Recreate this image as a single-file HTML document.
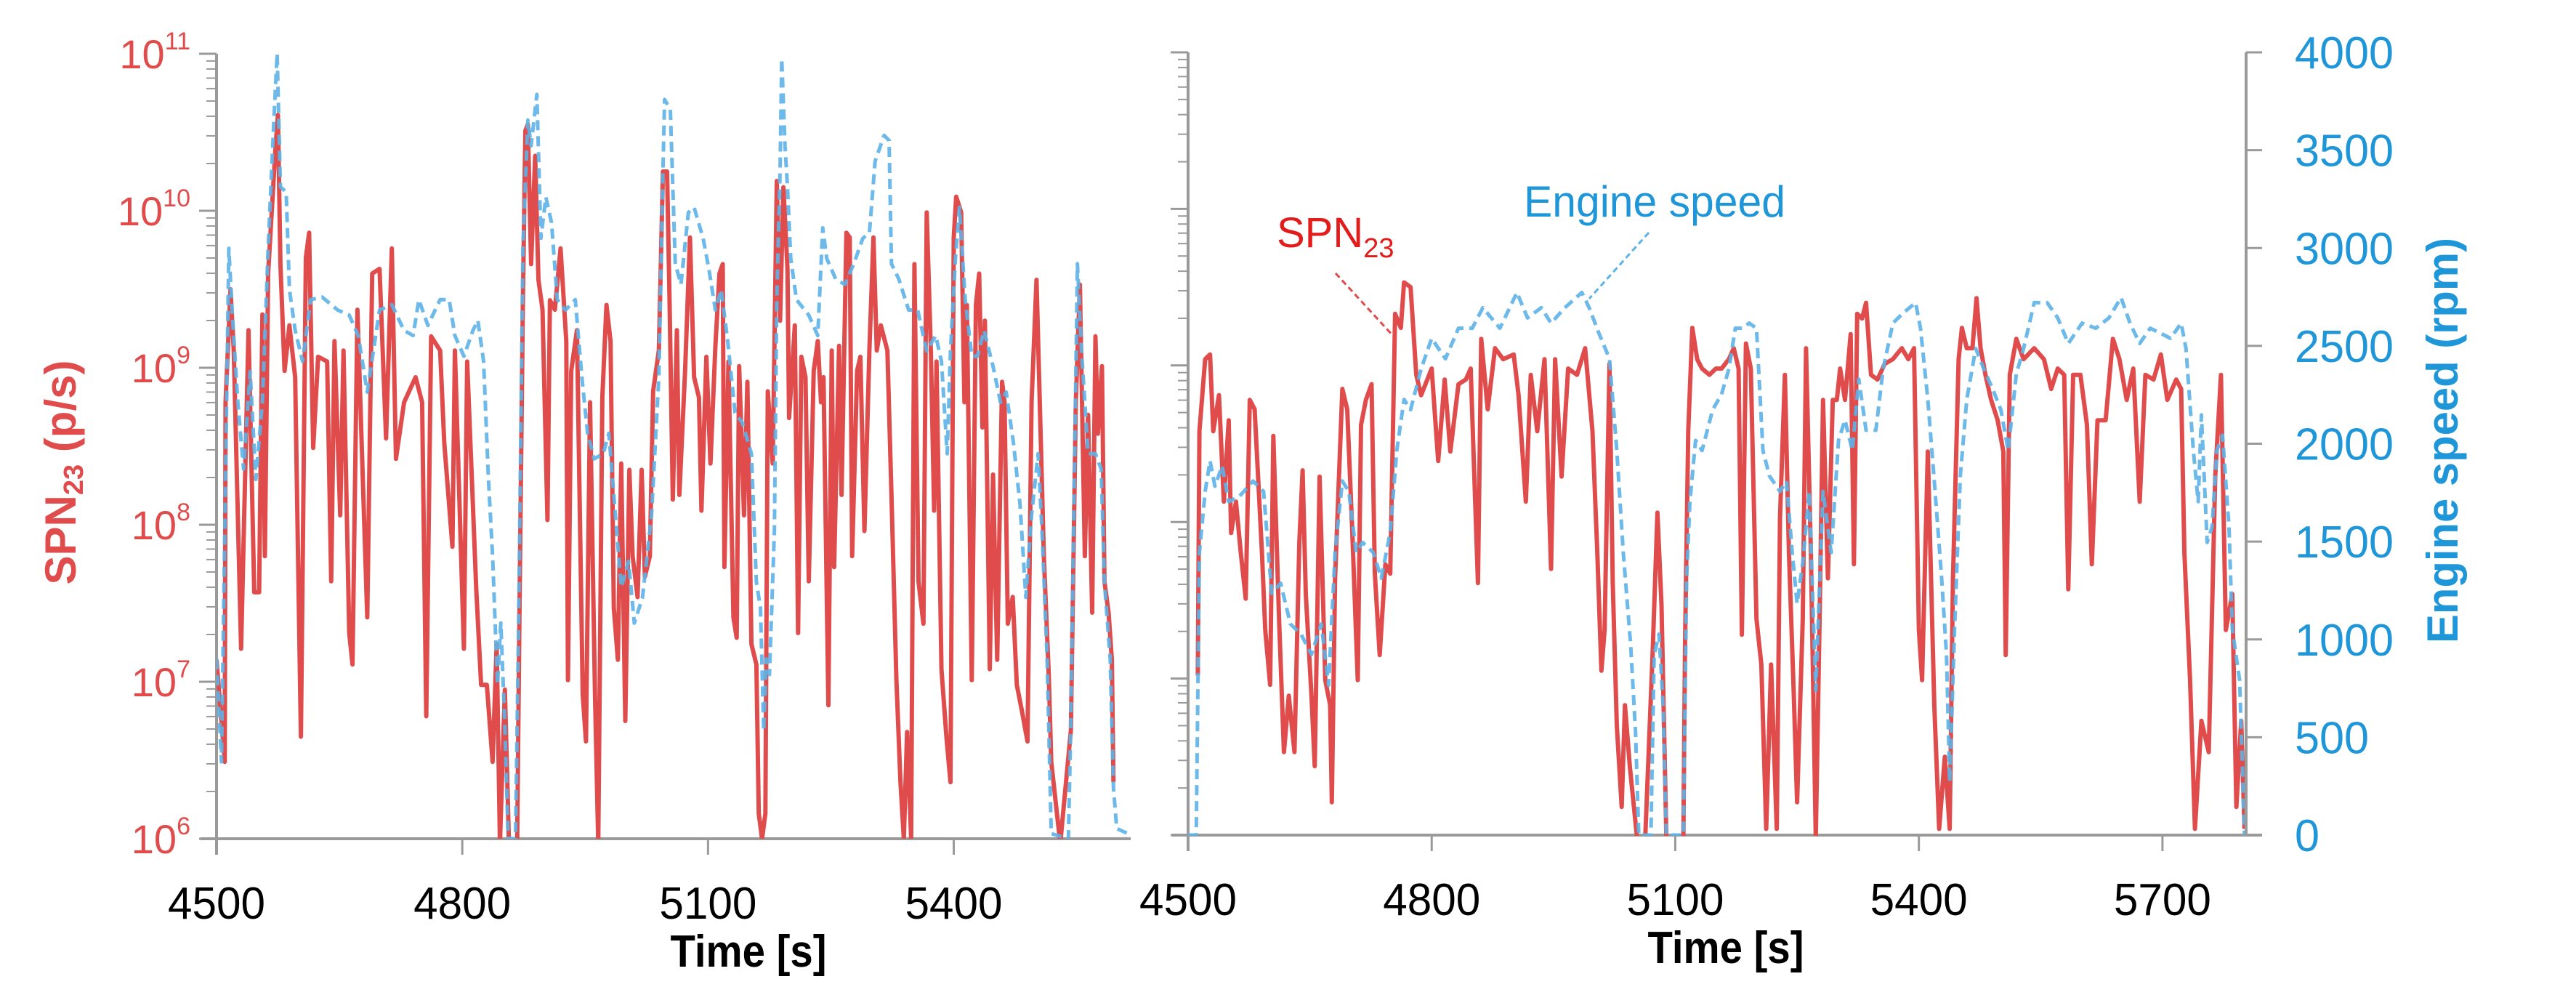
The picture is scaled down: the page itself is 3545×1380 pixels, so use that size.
<!DOCTYPE html>
<html><head><meta charset="utf-8"><style>
html,body{margin:0;padding:0;background:#fff}
svg{display:block}
text{font-family:"Liberation Sans",sans-serif}
</style></head><body>
<svg id="chart" width="3545" height="1380" viewBox="0 0 3545 1380" xmlns="http://www.w3.org/2000/svg">
<defs>
<clipPath id="clipL"><rect x="298" y="60" width="1258" height="1094"/></clipPath>
<clipPath id="clipR"><rect x="1635" y="60" width="1456" height="1090"/></clipPath>
</defs>
<g id="root"></g>
</svg>
<script>
// ---- data: left panel ----
const leftRedT=[4500,4510,4511,4517,4521,4530,4539,4546,4552,4556,4559,4563,4572,4575,4578,4583,4589,4596,4603,4609,4613,4618,4624,4635,4640,4644,4651,4655,4662,4666,4672,4677,4684,4690,4699,4707,4714,4719,4729,4743,4751,4756,4762,4773,4778,4788,4791,4802,4806,4817,4823,4830,4837,4842,4846,4852,4857,4867,4870,4874,4877,4880,4884,4889,4893,4898,4904,4907,4913,4920,4927,4929,4933,4940,4947,4951,4956,4962,4966,4971,4976,4981,4985,4990,4994,4999,5004,5008,5014,5019,5023,5029,5033,5040,5045,5050,5053,5057,5062,5065,5072,5078,5083,5089,5092,5098,5103,5109,5114,5118,5120,5125,5131,5135,5138,5144,5148,5153,5159,5162,5166,5170,5173,5179,5184,5188,5192,5197,5199,5206,5210,5214,5219,5223,5229,5234,5238,5241,5247,5251,5254,5260,5263,5269,5273,5276,5282,5286,5291,5297,5302,5306,5311,5319,5324,5330,5335,5339,5343,5348,5352,5357,5363,5367,5372,5376,5379,5385,5391,5396,5400,5403,5409,5413,5416,5422,5427,5431,5435,5438,5444,5448,5453,5459,5462,5466,5472,5477,5483,5490,5495,5501,5505,5510,5516,5519,5530,5543,5549,5554,5560,5564,5569,5573,5576,5581,5584,5589,5593,5595];
const leftRedLog=[7.14,6.49,8.78,9.50,9.11,7.21,9.24,7.57,7.57,9.34,7.80,9.60,10.41,10.61,9.66,8.98,9.27,8.94,6.65,9.70,9.86,8.49,9.07,9.04,7.64,9.17,8.06,9.11,7.31,7.11,9.37,8.55,7.41,9.60,9.63,8.55,9.76,8.42,8.78,8.94,8.78,6.78,9.20,9.11,8.52,7.86,9.11,7.21,9.04,7.60,6.98,6.98,6.49,7.24,5.97,6.95,5.97,5.97,7.54,9.43,10.51,10.55,9.66,10.35,9.56,9.37,8.03,9.43,9.37,9.76,9.17,7.01,8.98,9.24,6.92,6.62,8.78,6.92,5.97,8.81,9.40,9.17,7.47,7.14,8.39,6.75,8.35,7.80,7.54,8.35,7.67,7.80,8.85,9.11,10.25,10.25,9.43,8.16,9.24,8.19,8.98,9.83,8.94,8.81,8.09,9.07,8.39,9.14,9.60,9.66,7.73,9.04,7.41,7.28,9.01,8.06,8.91,7.24,7.11,6.16,6.00,6.16,8.85,8.39,10.19,9.30,10.15,9.63,8.68,9.27,7.31,9.07,8.94,7.64,8.98,9.17,8.78,8.94,6.85,9.11,7.73,9.14,8.19,9.86,9.83,7.80,8.98,9.07,7.96,9.11,9.83,9.11,9.27,9.11,8.19,7.01,6.36,6.00,6.68,6.00,9.66,7.64,7.37,9.99,9.11,8.09,9.04,7.08,6.65,6.36,9.83,10.09,9.99,8.78,9.40,7.01,9.40,9.60,8.62,9.30,7.08,8.32,7.14,8.91,8.78,7.37,7.54,6.98,6.82,6.62,8.78,9.56,8.78,7.80,7.04,6.49,5.97,6.69,8.78,9.53,7.80,8.70,7.44,9.20,8.58,9.01,7.64,7.44,7.14,6.36];
const leftSpdT=[4500,4506,4515,4519,4526,4533,4541,4548,4556,4563,4570,4574,4578,4585,4589,4596,4605,4615,4629,4648,4662,4673,4684,4699,4714,4729,4740,4747,4758,4773,4784,4791,4802,4813,4819,4826,4832,4837,4843,4847,4852,4856,4865,4869,4874,4880,4884,4891,4896,4902,4909,4916,4926,4938,4946,4953,4961,4972,4979,4986,4994,5003,5010,5020,5031,5040,5045,5047,5054,5060,5067,5076,5083,5094,5101,5109,5116,5124,5133,5142,5153,5159,5164,5168,5171,5175,5181,5184,5188,5190,5194,5197,5201,5208,5223,5234,5240,5245,5256,5267,5278,5289,5297,5304,5315,5321,5324,5333,5345,5356,5367,5378,5385,5392,5396,5402,5407,5414,5422,5429,5437,5448,5457,5464,5473,5481,5488,5495,5503,5508,5514,5519,5540,5543,5551,5556,5564,5573,5580,5584,5591,5595,5599,5613];
const leftSpd=[915,392,3008,2694,2224,1884,2381,1831,2224,3008,3662,4002,3322,3296,2799,2590,2433,2747,2760,2694,2668,2564,2276,2694,2721,2590,2564,2747,2616,2747,2747,2564,2459,2590,2642,2433,1831,1439,785,1099,575,0,0,1177,3008,3662,3531,3793,3060,3270,3139,2747,2694,2747,2354,2066,1936,1962,2066,1700,1282,1413,1099,1230,1648,2354,3401,3767,3715,2930,2825,3191,3217,3060,2904,2694,2799,2538,2171,2119,1962,1308,1177,549,916,837,1570,2747,3401,3976,3532,3322,2956,2747,2668,2564,3113,2956,2851,2825,2930,3060,3086,3453,3584,3558,2930,2851,2694,2694,2485,2564,2433,1962,2485,2956,3217,2747,2459,2459,2590,2407,2224,2276,2014,1700,1230,1648,1962,1543,916,26,0,602,2930,2485,1962,1962,1884,1308,916,262,52,26];
// ---- data: right panel ----
const rightRedT=[4512,4514,4521,4527,4531,4538,4544,4550,4553,4559,4565,4571,4576,4582,4591,4595,4601,4605,4612,4618,4624,4631,4637,4641,4645,4652,4656,4662,4669,4675,4677,4681,4690,4696,4702,4709,4713,4719,4726,4730,4736,4743,4749,4753,4755,4762,4766,4774,4781,4787,4800,4808,4816,4823,4833,4842,4848,4857,4861,4869,4878,4888,4901,4907,4916,4922,4930,4939,4947,4952,4960,4968,4979,4989,4998,5004,5009,5013,5019,5023,5028,5034,5038,5044,5053,5063,5072,5078,5083,5089,5110,5112,5116,5121,5127,5133,5142,5150,5157,5166,5172,5178,5182,5187,5193,5200,5206,5212,5218,5225,5229,5235,5240,5246,5250,5257,5261,5267,5273,5278,5282,5288,5294,5299,5303,5309,5316,5320,5324,5330,5335,5341,5349,5358,5368,5379,5387,5394,5400,5404,5411,5419,5425,5432,5438,5442,5449,5453,5459,5466,5471,5476,5482,5489,5497,5504,5507,5512,5520,5529,5542,5554,5563,5571,5579,5584,5590,5599,5607,5613,5620,5630,5639,5647,5656,5664,5672,5679,5689,5698,5706,5717,5723,5727,5734,5740,5748,5757,5765,5772,5778,5786,5791,5797,5801];
const rightRedLog=[7.02,8.58,9.04,9.07,8.58,8.81,8.13,8.65,7.93,8.13,7.80,7.51,8.78,8.72,7.80,7.31,6.96,8.55,7.38,6.53,6.89,6.53,7.87,8.33,7.54,6.89,6.44,8.29,6.99,6.83,6.21,7.64,8.85,8.72,7.97,6.99,8.62,8.78,8.88,7.67,7.15,7.73,7.67,8.78,9.33,9.24,9.53,9.50,8.94,8.81,8.98,8.39,8.91,8.45,8.88,8.91,8.98,7.61,9.17,8.72,9.11,9.04,9.07,8.81,8.13,8.94,8.58,9.04,7.70,9.04,8.29,8.98,8.94,9.11,8.58,7.80,7.05,7.31,9.01,7.61,6.70,6.18,6.83,6.44,5.98,5.98,7.15,8.06,7.47,5.98,5.98,7.22,8.58,9.24,9.04,8.98,8.94,8.98,8.98,9.04,9.11,8.98,7.28,9.14,8.98,7.38,7.09,6.04,7.09,6.04,8.03,8.94,7.80,6.89,6.21,7.38,9.11,7.80,5.98,7.47,8.78,7.64,8.78,8.78,8.98,8.78,9.20,7.73,9.33,9.30,9.40,8.94,8.91,9.01,9.04,9.11,9.04,9.11,7.31,6.99,8.45,6.83,6.04,6.50,6.04,7.64,9.04,9.24,9.11,9.11,9.43,9.11,8.94,8.78,8.65,8.45,7.15,8.94,9.17,9.04,9.11,9.04,8.85,8.98,8.94,7.57,8.94,8.94,8.62,7.73,8.65,8.65,9.17,9.04,8.78,8.98,8.13,8.94,8.91,9.07,8.78,8.91,8.85,7.80,6.99,6.04,6.73,6.53,8.29,8.94,7.31,7.54,6.18,6.73,6.04];
const rightSpdT=[4500,4510,4514,4521,4527,4533,4542,4550,4563,4580,4593,4603,4614,4626,4639,4652,4664,4673,4681,4690,4698,4707,4715,4728,4738,4749,4757,4766,4774,4787,4800,4817,4833,4850,4863,4884,4905,4918,4935,4947,4964,4985,4994,5006,5019,5028,5036,5045,5051,5055,5070,5074,5080,5085,5089,5110,5114,5118,5125,5133,5146,5157,5166,5174,5183,5191,5200,5208,5216,5229,5237,5244,5250,5257,5265,5273,5282,5292,5301,5309,5318,5326,5335,5347,5356,5368,5381,5396,5402,5411,5419,5428,5434,5438,5444,5451,5459,5470,5480,5491,5501,5510,5520,5529,5542,5558,5571,5584,5601,5618,5634,5649,5660,5672,5685,5698,5710,5723,5729,5738,5744,5748,5755,5761,5767,5774,5782,5786,5795,5801];
const rightSpd=[0,0,1444,1756,1913,1783,1887,1704,1730,1809,1756,1235,1287,1079,1027,923,1079,766,1444,1809,1756,1444,1496,1444,1313,1548,1965,2226,2174,2382,2538,2434,2590,2590,2695,2590,2773,2643,2695,2616,2695,2773,2695,2564,2434,1965,1444,975,532,0,0,923,1027,662,0,0,1313,1704,2017,1965,2174,2252,2382,2590,2590,2616,2590,1965,1835,1756,1809,1444,1183,1392,1756,740,1756,1444,2017,2121,1965,2330,2069,2069,2382,2616,2669,2721,2590,2226,1809,1313,923,271,1053,1835,2226,2486,2382,2278,2174,1965,2356,2486,2721,2721,2643,2512,2616,2590,2643,2747,2616,2512,2590,2564,2538,2616,2486,1965,1704,2147,1496,1574,1965,2043,1574,1053,792,0];
const xTicksL=[4500,4800,5100,5400];
const xTicksR=[4500,4800,5100,5400,5700];
const logTicks=[6,7,8,9,10,11];
const rpmTicks=[0,500,1000,1500,2000,2500,3000,3500,4000];

const NS='http://www.w3.org/2000/svg';
const root=document.getElementById('root');
function mk(tag,attrs,parent){const e=document.createElementNS(NS,tag);for(const k in attrs)e.setAttribute(k,attrs[k]);(parent||root).appendChild(e);return e;}
const RED='#E04B4B', BLUE='#5DB3E8', BLUET='#1E96D8', GRAY='#9a9a9a';

function panel(o){
  const xs=t=>o.x0+(t-o.tmin)*(o.x1-o.x0)/(o.tmax-o.tmin);
  const yl=v=>o.y1-(v-6)*(o.y1-o.y0)/5;
  const yr=r=>o.y1-r*(o.y1-o.y0)/4000;
  const g=mk('g',{});
  
  
  // y log axis
  const ya=mk('line',{x1:o.x0,y1:o.y0,x2:o.x0,y2:o.y1+22,stroke:GRAY,'stroke-width':4},g);
  
  
  for(const k of logTicks){
    const y=yl(k);
    const tk=mk('line',{x1:o.x0-24,y1:y,x2:o.x0,y2:y,stroke:GRAY,'stroke-width':3},g);
    
    
    if(k<11){for(let m=2;m<10;m++){const yy=yl(k+Math.log10(m));
      const mt=mk('line',{x1:o.x0-14,y1:yy,x2:o.x0,y2:yy,stroke:GRAY,'stroke-width':2},g);
      
      }}
    if(o.logLabels){
      const t=mk('text',{x:o.x0-36,y:y+20,'text-anchor':'end',fill:RED,'font-size':56},g);
      
      
      t.textContent='10';
      const s=mk('tspan',{dy:-26,'font-size':34},t);s.textContent=String(k);
    }
  }
  // x axis
  const xa=mk('line',{x1:o.x0-22,y1:o.y1,x2:o.xaEnd,y2:o.y1,stroke:GRAY,'stroke-width':4},g);
  
  
  for(const t of o.xticks){
    const x=xs(t);
    const tk=mk('line',{x1:x,y1:o.y1,x2:x,y2:o.y1+22,stroke:GRAY,'stroke-width':3},g);
    
    
    const lb=mk('text',{x:x,y:o.y1+110,'text-anchor':'middle','font-size':62,fill:'#000',textLength:134,lengthAdjust:'spacingAndGlyphs'},g);
    
    
    lb.textContent=String(t);
  }
  const xt=mk('text',{x:o.titleX,y:o.y1+176,'text-anchor':'middle','font-size':62,'font-weight':'bold',fill:'#000',textLength:215,lengthAdjust:'spacingAndGlyphs'},g);
  
  
  xt.textContent='Time [s]';
  // series
  const cg=mk('g',{'clip-path':'url(#'+o.clip+')'},g);
  let d='';o.redT.forEach((t,i)=>{d+=(i?'L':'M')+xs(t).toFixed(1)+','+yl(o.redV[i]).toFixed(1);});
  const rp=mk('path',{d:d,fill:'none',stroke:RED,'stroke-width':6,'stroke-linejoin':'round'},cg);
  
  
  let d2='';o.spdT.forEach((t,i)=>{d2+=(i?'L':'M')+xs(t).toFixed(1)+','+yr(o.spd[i]).toFixed(1);});
  const bp=mk('path',{d:d2,fill:'none',stroke:BLUE,'stroke-width':5,'stroke-dasharray':'14 8','stroke-linejoin':'round','stroke-opacity':0.9},cg);
  
  
  if(o.rpmAxis){
    const ra=mk('line',{x1:o.x1,y1:o.y0,x2:o.x1,y2:o.y1,stroke:GRAY,'stroke-width':4},g);
    
    
    for(const r of rpmTicks){
      const y=yr(r);
      const tk=mk('line',{x1:o.x1,y1:y,x2:o.x1+22,y2:y,stroke:GRAY,'stroke-width':3},g);
      
      
      const lb=mk('text',{x:3158,y:y+22,'font-size':62,fill:BLUET},g);
      
      
      const s=String(r);
      lb.setAttribute('textLength',String(34*s.length));
      lb.setAttribute('lengthAdjust','spacingAndGlyphs');
      lb.textContent=s;
    }
  }
}
panel({name:'left-panel',x0:298,x1:1556,xaEnd:1556,y0:74,y1:1154,tmin:4500,tmax:5616,xticks:xTicksL,titleX:1030,clip:'clipL',logLabels:true,rpmAxis:false,redT:leftRedT,redV:leftRedLog,spdT:leftSpdT,spd:leftSpd});
panel({name:'right-panel',x0:1635,x1:3091,xaEnd:3113,y0:72,y1:1149,tmin:4500,tmax:5803,xticks:xTicksR,titleX:2375,clip:'clipR',logLabels:false,rpmAxis:true,redT:rightRedT,redV:rightRedLog,spdT:rightSpdT,spd:rightSpd});

// axis titles
const lt=mk('text',{x:0,y:0,transform:'translate(104,650) rotate(-90)','text-anchor':'middle','font-size':60,'font-weight':'bold',fill:RED});


lt.innerHTML='SPN<tspan font-size="38" dy="10">23</tspan><tspan dy="-10"> (p/s)</tspan>';
const rt=mk('text',{x:0,y:0,transform:'translate(3382,606) rotate(-90)','text-anchor':'middle','font-size':60,'font-weight':'bold',fill:BLUET,textLength:558,lengthAdjust:'spacingAndGlyphs'});


rt.textContent='Engine speed  (rpm)';
// annotations
const a1=mk('text',{x:1757,y:340,'font-size':58,fill:'#E21B1B'});


a1.innerHTML='SPN<tspan font-size="38" dy="14">23</tspan>';
const l1=mk('line',{x1:1838,y1:376,x2:1918,y2:463,stroke:RED,'stroke-width':3,'stroke-dasharray':'8 5'});


const a2=mk('text',{x:2097,y:298,'font-size':60,fill:BLUET,textLength:360,lengthAdjust:'spacingAndGlyphs'});


a2.textContent='Engine speed';
const l2=mk('line',{x1:2269,y1:320,x2:2187,y2:411,stroke:BLUE,'stroke-width':3,'stroke-dasharray':'8 5'});


</script>
</body></html>
